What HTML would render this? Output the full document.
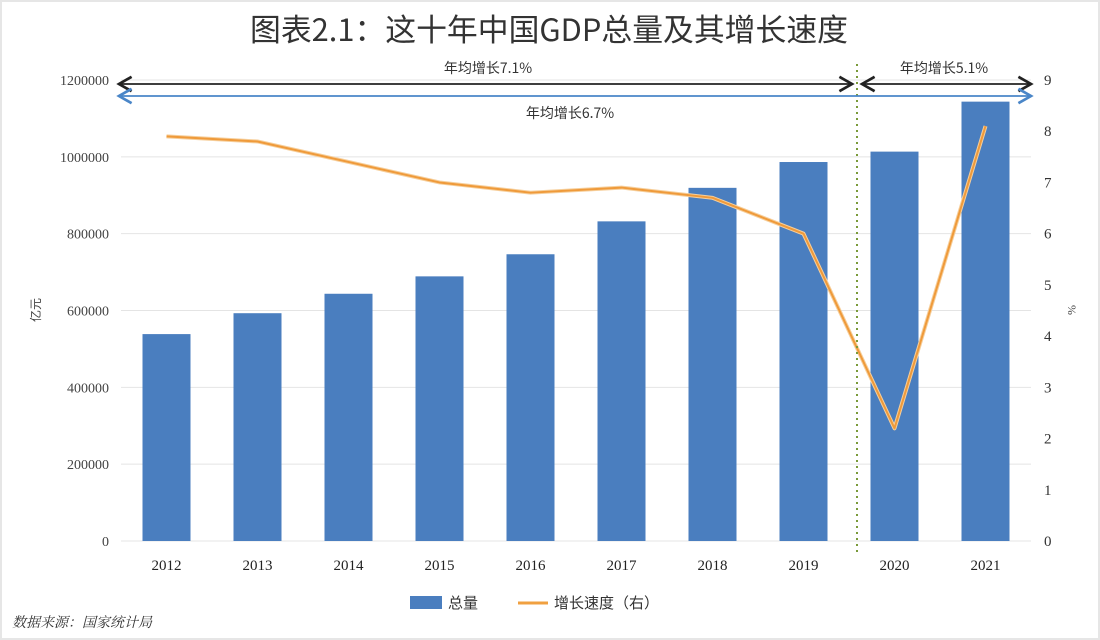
<!DOCTYPE html>
<html><head><meta charset="utf-8"><style>
body{margin:0;background:#fff;}
svg{display:block;font-family:"Liberation Serif","Noto Serif CJK SC",serif;}
</style></head><body>
<svg id="chart" width="1100" height="640" viewBox="0 0 1100 640" xmlns="http://www.w3.org/2000/svg">
<rect x="0" y="0" width="1100" height="640" fill="#fff"/>
<rect x="1" y="1" width="1098" height="638" fill="none" stroke="#e6e6e6" stroke-width="2"/>
<text x="549" y="41" text-anchor="middle" font-size="31" fill="#333" textLength="598" lengthAdjust="spacingAndGlyphs" style="font-family:'Noto Sans CJK SC',sans-serif">图表2.1：这十年中国GDP总量及其增长速度</text>
<g id="grid"></g><g id="bars"></g><g id="line"></g><g id="axes"></g>
<line x1="857" y1="64" x2="857" y2="556" stroke="#7a9a3a" stroke-width="2" stroke-dasharray="2,4"/>
<defs>
<marker id="ab" markerWidth="10" markerHeight="10" refX="8" refY="5" orient="auto-start-reverse"><path d="M1,1 L8,5 L1,9" fill="none" stroke="#222" stroke-width="1.5"/></marker>
<marker id="ablue" markerWidth="10" markerHeight="10" refX="8" refY="5" orient="auto-start-reverse"><path d="M1,1 L8,5 L1,9" fill="none" stroke="#4a86c8" stroke-width="1.5"/></marker>
</defs>
<line x1="119" y1="84" x2="852" y2="84" stroke="#222" stroke-width="1.8" marker-start="url(#ab)" marker-end="url(#ab)"/>
<line x1="862" y1="84" x2="1031" y2="84" stroke="#222" stroke-width="1.8" marker-start="url(#ab)" marker-end="url(#ab)"/>
<line x1="119" y1="96" x2="1031" y2="96" stroke="#4a86c8" stroke-width="1.8" marker-start="url(#ablue)" marker-end="url(#ablue)"/>
<text x="488" y="73" text-anchor="middle" font-size="14" fill="#333" style="font-family:'Noto Sans CJK SC',sans-serif">年均增长7.1%</text>
<text x="944" y="73" text-anchor="middle" font-size="14" fill="#333" style="font-family:'Noto Sans CJK SC',sans-serif">年均增长5.1%</text>
<text x="570" y="118" text-anchor="middle" font-size="14" fill="#333" style="font-family:'Noto Sans CJK SC',sans-serif">年均增长6.7%</text>
<text x="40" y="310" text-anchor="middle" font-size="12" fill="#444" transform="rotate(-90 40 310)" style="font-family:'Noto Sans CJK SC',sans-serif">亿元</text>
<text x="1068" y="310" text-anchor="middle" font-size="12" fill="#444" transform="rotate(90 1068 310)">%</text>
<rect x="410" y="596" width="32" height="13" fill="#4a7ebf"/>
<text x="448" y="608" font-size="15" fill="#333" style="font-family:'Noto Sans CJK SC',sans-serif">总量</text>
<line x1="518" y1="603" x2="548" y2="603" stroke="#f0a040" stroke-width="3"/>
<text x="554" y="608" font-size="15" fill="#333" style="font-family:'Noto Sans CJK SC',sans-serif">增长速度（右）</text>
<text x="12" y="627" font-size="14" fill="#333" font-style="italic" style="font-family:'Noto Serif CJK SC',serif">数据来源：国家统计局</text>
</svg>
<script>
const years = ["2012","2013","2014","2015","2016","2017","2018","2019","2020","2021"];
const gdpTotal = [538580,592963,643563,688858,746395,832036,919281,986515,1013567,1143670];
const growthRate = [7.9,7.8,7.4,7.0,6.8,6.9,6.7,6.0,2.2,8.1];
const leftTicks = [0,200000,400000,600000,800000,1000000,1200000];
const rightTicks = [0,1,2,3,4,5,6,7,8,9];

const NS="http://www.w3.org/2000/svg";
const x0=121, x1=1031, yBase=541, yTop=80;
const band=(x1-x0)/years.length;
const xC=i=>x0+band*(i+0.5);
const yL=v=>yBase-(v/1200000)*(yBase-yTop);
const yR=v=>yBase-(v/9)*(yBase-yTop);
function mk(tag,attrs,parent,text){const e=document.createElementNS(NS,tag);for(const k in attrs)e.setAttribute(k,attrs[k]);if(text!=null)e.textContent=text;document.getElementById(parent).appendChild(e);return e;}

leftTicks.forEach(t=>{
  const g=mk('line',{x1:x0,x2:x1,y1:yL(t),y2:yL(t),stroke:'#e4e4e4','stroke-width':1},'grid');
  
  
  const l=mk('text',{x:x0-12,y:yL(t)+5,'text-anchor':'end','font-size':14,fill:'#444'},'axes',String(t));
  
  
});
rightTicks.forEach(t=>{
  const l=mk('text',{x:1044,y:yR(t)+5,'text-anchor':'start','font-size':15,fill:'#333'},'axes',String(t));
  
  
});
years.forEach((y,i)=>{
  const b=mk('rect',{x:xC(i)-24,y:yL(gdpTotal[i]),width:48,height:yBase-yL(gdpTotal[i]),fill:'#4a7ebf'},'bars');
  
  
  const l=mk('text',{x:xC(i),y:570,'text-anchor':'middle','font-size':15,fill:'#222'},'axes',y);
  
  
});
const pts=growthRate.map((v,i)=>xC(i)+','+yR(v)).join(' ');
const halo=mk('polyline',{points:pts,fill:'none',stroke:'#f6cf9c','stroke-width':4,'stroke-linejoin':'round'},'line');


const ln=mk('polyline',{points:pts,fill:'none',stroke:'#ef9a3a','stroke-width':2,'stroke-linejoin':'round'},'line');


</script>
</body></html>
